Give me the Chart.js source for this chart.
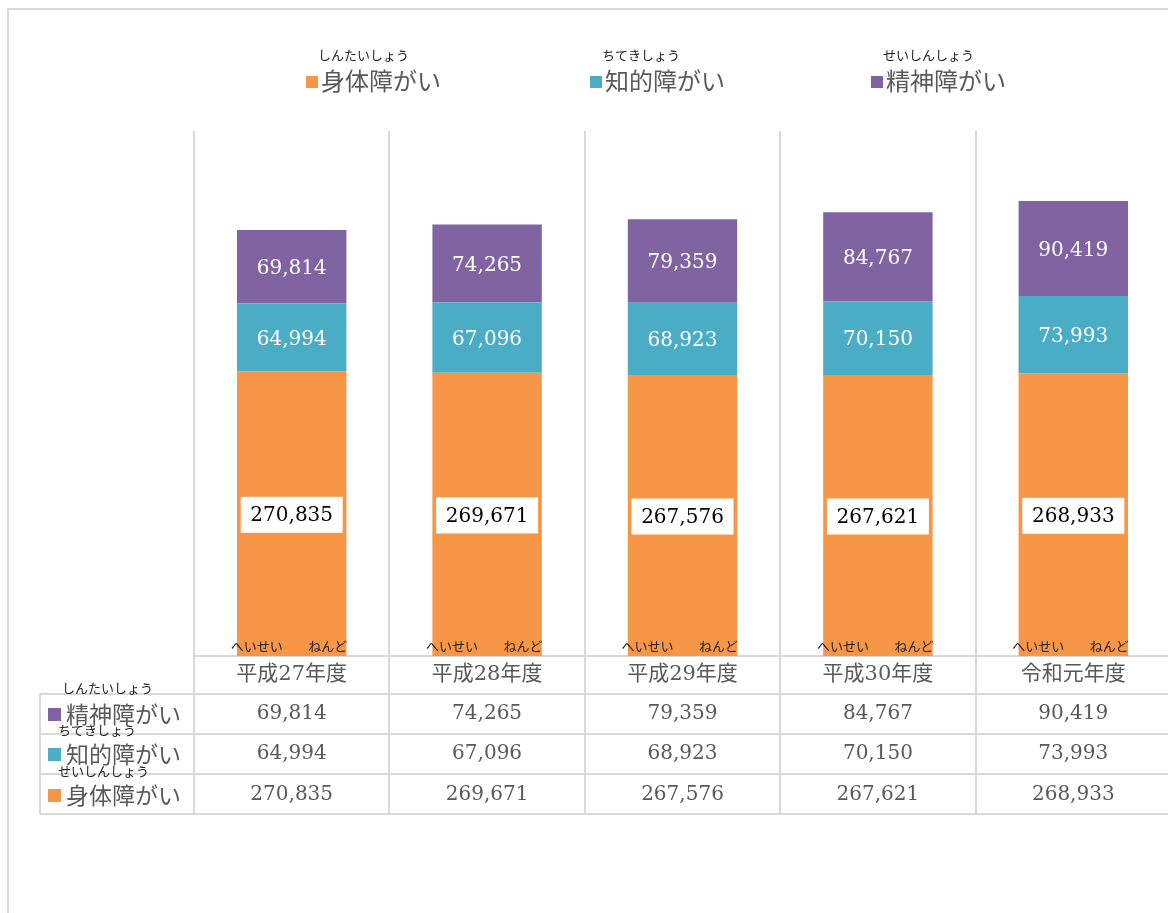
<!DOCTYPE html>
<html>
<head>
<meta charset="utf-8">
<script src="https://cdn.jsdelivr.net/npm/chart.js@4"></script>
<style>
  html, body { margin: 0; padding: 0; background: #fff; overflow: hidden; }
  #wrap { width: 1180px; height: 913px; position: relative; }
</style>
</head>
<body>
<div id="wrap"><canvas id="chart"></canvas></div>
<script>
// data
var years = ['平成27年度', '平成28年度', '平成29年度', '平成30年度', '令和元年度'];
var physical = [270835, 269671, 267576, 267621, 268933];   // 身体障がい
var intellectual = [64994, 67096, 68923, 70150, 73993];    // 知的障がい
var mental = [69814, 74265, 79359, 84767, 90419];          // 精神障がい

var seriesNames = ['身体障がい', '知的障がい', '精神障がい'];
var seriesRuby = ['しんたいしょう', 'ちてきしょう', 'せいしんしょう'];
var colors = ['#F79646', '#4BACC6', '#8064A2'];

var grid = '#d9d9d9';
var textGray = '#595959';
var serif = '"DejaVu Serif", "Liberation Serif", "Noto Sans CJK JP", serif';
var jp = '"Noto Sans CJK JP", "Noto Sans", sans-serif';
var mixed = '"DejaVu Serif", "Noto Sans CJK JP", serif';

function fmt(v) { return v.toLocaleString('en-US'); }

var tablePlugin = {
  id: 'tablePlugin',
  beforeDatasetsDraw: function(chart) {
    var ctx = chart.ctx, area = chart.chartArea, x = chart.scales.x;
    var half = (x.getPixelForValue(1) - x.getPixelForValue(0)) / 2;
    ctx.save();
    ctx.strokeStyle = grid;
    ctx.lineWidth = 2;
    // outer frame
    ctx.beginPath();
    ctx.moveTo(8, 913); ctx.lineTo(8, 9); ctx.lineTo(1180, 9);
    ctx.stroke();
    // category boundaries
    for (var i = 0; i <= years.length; i++) {
      var px = Math.round(x.getPixelForValue(i) - half);
      ctx.beginPath();
      ctx.moveTo(px, area.top); ctx.lineTo(px, 814);
      ctx.stroke();
    }
    // table rows
    var rows = [656, 694, 734, 774, 814];
    rows.forEach(function(ry, k) {
      ctx.beginPath();
      ctx.moveTo(k === 0 ? area.left : 40, ry); ctx.lineTo(1180, ry);
      ctx.stroke();
    });
    ctx.beginPath();
    ctx.moveTo(40, 694); ctx.lineTo(40, 814);
    ctx.stroke();
    ctx.restore();
  },
  afterDatasetsDraw: function(chart) {
    var ctx = chart.ctx, x = chart.scales.x;
    ctx.save();
    ctx.textAlign = 'center';
    ctx.textBaseline = 'middle';
    // segment labels
    chart.data.datasets.forEach(function(ds, di) {
      var meta = chart.getDatasetMeta(di);
      meta.data.forEach(function(bar, i) {
        var cy = (bar.y + bar.base) / 2;
        var txt = fmt(ds.data[i]);
        ctx.font = '20px ' + serif;
        if (di === 0) {
          ctx.fillStyle = '#fff';
          ctx.fillRect(bar.x - 51, cy - 17, 102, 36);
          ctx.fillStyle = '#000';
          ctx.fillText(txt, bar.x, cy + 2);
        } else {
          ctx.fillStyle = '#fff';
          ctx.fillText(txt, bar.x, cy + 2);
        }
      });
    });
    // ruby above category labels
    ctx.font = '13px ' + jp;
    ctx.fillStyle = '#222';
    years.forEach(function(y, i) {
      var cx = x.getPixelForValue(i);
      ctx.fillText('へいせい', cx - 35, 646);
      ctx.fillText('ねんど', cx + 36, 646);
    });
    // category labels
    ctx.font = '21px ' + mixed;
    ctx.fillStyle = textGray;
    years.forEach(function(y, i) {
      ctx.fillText(y, x.getPixelForValue(i), 675);
    });
    // table values
    var tableRows = [mental, intellectual, physical];
    var rowMid = [714, 754, 795];
    ctx.font = '20px ' + serif;
    tableRows.forEach(function(arr, r) {
      arr.forEach(function(v, i) {
        ctx.fillText(fmt(v), x.getPixelForValue(i), rowMid[r]);
      });
    });
    // table row headers (ruby as in the original)
    var headerIdx = [2, 1, 0];
    var headerRuby = ['しんたいしょう', 'ちてきしょう', 'せいしんしょう'];
    var rubyY = [688, 730, 771];
    headerIdx.forEach(function(si, r) {
      ctx.fillStyle = colors[si];
      ctx.fillRect(48, rowMid[r] - 6, 13, 13);
      ctx.textAlign = 'left';
      ctx.font = '23px ' + jp;
      ctx.fillStyle = textGray;
      ctx.fillText(seriesNames[si], 66, rowMid[r]);
      ctx.font = '13px ' + jp;
      ctx.fillStyle = '#222';
      ctx.fillText(headerRuby[r], r === 0 ? 62 : 58, rubyY[r]);
    });
    // legend at top
    var legendX = [306, 590, 871];
    ctx.textAlign = 'left';
    seriesNames.forEach(function(n, si) {
      ctx.fillStyle = colors[si];
      ctx.fillRect(legendX[si], 76, 12, 12);
      ctx.font = '24px ' + jp;
      ctx.fillStyle = textGray;
      ctx.fillText(n, legendX[si] + 15, 81);
      ctx.font = '13px ' + jp;
      ctx.fillStyle = '#222';
      ctx.fillText(seriesRuby[si], legendX[si] + 12, 55);
    });
    ctx.restore();
  }
};

new Chart(document.getElementById('chart'), {
  type: 'bar',
  data: {
    labels: years,
    datasets: [
      { label: seriesNames[0], data: physical, backgroundColor: colors[0] },
      { label: seriesNames[1], data: intellectual, backgroundColor: colors[1] },
      { label: seriesNames[2], data: mental, backgroundColor: colors[2] }
    ]
  },
  options: {
    responsive: true,
    maintainAspectRatio: false,
    animation: false,
    layout: { padding: { left: 194, right: 9, top: 131, bottom: 257 } },
    datasets: { bar: { categoryPercentage: 0.56, barPercentage: 1, borderWidth: 0 } },
    plugins: { legend: { display: false }, tooltip: { enabled: false } },
    scales: {
      x: { stacked: true, display: false },
      y: { stacked: true, display: false, min: 0, max: 500000 }
    }
  },
  plugins: [tablePlugin]
});
</script>
</body>
</html>
